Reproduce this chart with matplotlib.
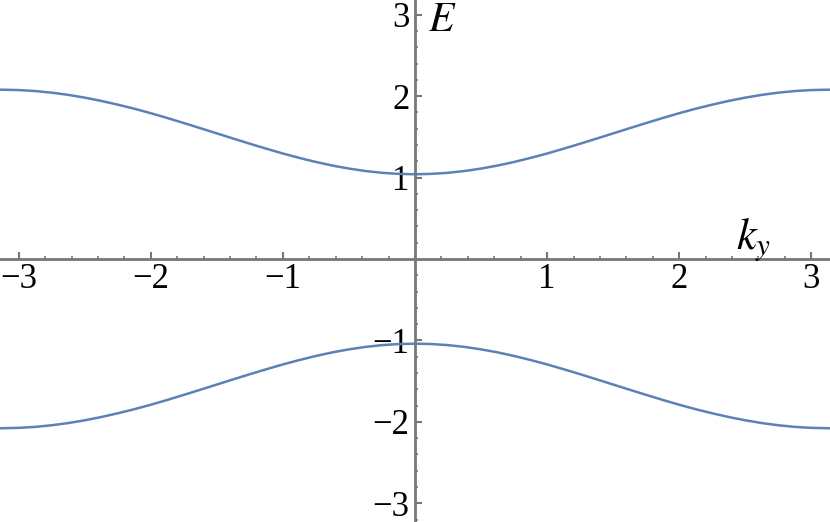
import numpy as np
import matplotlib
matplotlib.use("Agg")
import matplotlib.pyplot as plt
from matplotlib.ticker import MultipleLocator, FixedLocator

# values (upper band, lower band)
k_vals = [-3.1416, -3.0, -2.875, -2.75, -2.625, -2.5, -2.375, -2.25, -2.125, -2.0, -1.875, -1.75,
          -1.625, -1.5, -1.375, -1.25, -1.125, -1.0, -0.875, -0.75, -0.625, -0.5, -0.375, -0.25, -0.125,
          0.0, 0.125, 0.25, 0.375, 0.5, 0.625, 0.75, 0.875, 1.0, 1.125, 1.25, 1.375, 1.5, 1.625,
          1.75, 1.875, 2.0, 2.125, 2.25, 2.375, 2.5, 2.625, 2.75, 2.875, 3.0, 3.1416]
E_upper = [2.079, 2.074, 2.062, 2.042, 2.015, 1.981, 1.941, 1.895, 1.845, 1.790, 1.731, 1.669,
           1.606, 1.542, 1.478, 1.415, 1.354, 1.295, 1.241, 1.191, 1.147, 1.110, 1.080, 1.058, 1.045,
           1.040, 1.045, 1.058, 1.080, 1.110, 1.147, 1.191, 1.241, 1.295, 1.354, 1.415, 1.478, 1.542, 1.606,
           1.669, 1.731, 1.790, 1.845, 1.895, 1.941, 1.981, 2.015, 2.042, 2.062, 2.074, 2.079]
E_lower = [-2.079, -2.074, -2.062, -2.042, -2.015, -1.981, -1.941, -1.895, -1.845, -1.790, -1.731, -1.669,
           -1.606, -1.542, -1.478, -1.415, -1.354, -1.295, -1.241, -1.191, -1.147, -1.110, -1.080, -1.058, -1.045,
           -1.040, -1.045, -1.058, -1.080, -1.110, -1.147, -1.191, -1.241, -1.295, -1.354, -1.415, -1.478, -1.542, -1.606,
           -1.669, -1.731, -1.790, -1.845, -1.895, -1.941, -1.981, -2.015, -2.042, -2.062, -2.074, -2.079]

x_ticks = [-3, -2, -1, 1, 2, 3]
y_ticks = [-3, -2, -1, 1, 2, 3]

plt.rcParams["font.family"] = ["Liberation Serif", "DejaVu Serif"]
plt.rcParams["mathtext.fontset"] = "stix"

line_col = "#5E81B5"
axis_col = "#777777"

fig = plt.figure(figsize=(8.3, 5.22), dpi=100)
ax = fig.add_axes([0, 0, 1, 1])

ax.plot(k_vals, E_upper, color=line_col, lw=1.8, solid_joinstyle="round")
ax.plot(k_vals, E_lower, color=line_col, lw=1.8, solid_joinstyle="round")

ax.set_xlim(-np.pi, np.pi)
ax.set_ylim(-3.23, 3.18)

for s in ["top", "right"]:
    ax.spines[s].set_visible(False)
ax.spines["left"].set_position(("data", 0))
ax.spines["bottom"].set_position(("data", 0))
for s in ["left", "bottom"]:
    ax.spines[s].set_color(axis_col)
    ax.spines[s].set_linewidth(2)

ax.xaxis.set_major_locator(FixedLocator(x_ticks))
ax.yaxis.set_major_locator(FixedLocator(y_ticks))
ax.xaxis.set_minor_locator(MultipleLocator(0.2))
ax.yaxis.set_minor_locator(MultipleLocator(0.2))
ax.set_xticklabels(["\u2212" + str(-t) if t < 0 else str(t) for t in x_ticks])
ax.set_yticklabels(["\u2212" + str(-t) if t < 0 else str(t) for t in y_ticks])

ax.tick_params(which="major", direction="in", length=5, width=1.5, color=axis_col,
               labelsize=25, labelcolor="black")
ax.tick_params(which="minor", direction="in", length=2.5, width=1.2, color=axis_col)
ax.tick_params(axis="x", which="major", pad=3)
ax.tick_params(axis="y", which="major", pad=4)

# axis labels, placed in pixel coordinates (origin bottom-left)
ax.text(428, 522 - 21, "$E$", fontsize=30, transform=None, va="center", ha="left")
ax.text(736, 522 - 240, "$k_y$", fontsize=32, transform=None, va="center", ha="left")

fig.savefig("out.png", dpi=100)
